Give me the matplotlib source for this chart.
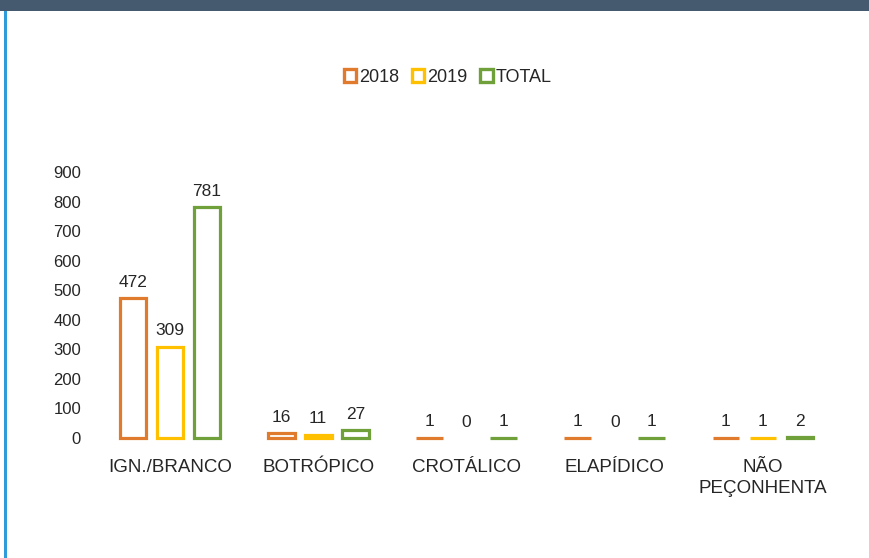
import numpy as np
import matplotlib.pyplot as plt
from matplotlib.patches import Patch, Rectangle

plt.rcParams['font.family'] = ['Liberation Sans', 'DejaVu Sans']

# data
categories = ['IGN./BRANCO', 'BOTRÓPICO', 'CROTÁLICO', 'ELAPÍDICO', 'NÃO\nPEÇONHENTA']
series_names = ['2018', '2019', 'TOTAL']
v2018 = [472, 16, 1, 1, 1]
v2019 = [309, 11, 0, 0, 1]
vtotal = [781, 27, 1, 1, 2]
colors = ['#E07B2E', '#FFC000', '#70A03A']
yticks = [0, 100, 200, 300, 400, 500, 600, 700, 800, 900]

W, H = 869, 558
fig = plt.figure(figsize=(W / 100, H / 100), dpi=100)

# header strip and left border from the page frame
fig.patches.append(Rectangle((0, 1 - 11 / H), 1, 11 / H, transform=fig.transFigure,
                             facecolor='#455A6E', edgecolor='none'))
fig.patches.append(Rectangle((4 / W, 0), 3 / W, 1 - 11 / H, transform=fig.transFigure,
                             facecolor='#2E9BDA', edgecolor='none'))

ax = fig.add_axes([95 / W, 120 / H, 745 / W, 266 / H])
x = np.arange(len(categories))
offsets = [-0.25, 0, 0.25]
for vals, off, col in zip([v2018, v2019, vtotal], offsets, colors):
    lw = [0 if v == 0 else 2.3 for v in vals]
    ax.bar(x + off, vals, width=0.18, facecolor='white', edgecolor=col,
           linewidth=lw, clip_on=False)
    for xi, v in zip(x, vals):
        ax.annotate(str(v), (xi + off, v), xytext=(0, 6), textcoords='offset points',
                    ha='center', va='bottom', fontsize=12.5, color='#262626')

ax.set_xlim(-0.506, 4.52)
ax.set_ylim(0, 900)
ax.set_yticks(yticks)
ax.set_xticks(x)
ax.set_xticklabels(categories, multialignment='center', fontsize=13.5, linespacing=1.3)
ax.tick_params(axis='both', length=0, labelcolor='#262626')
ax.tick_params(axis='y', labelsize=12, pad=10)
ax.tick_params(axis='x', pad=15)
for s in ax.spines.values():
    s.set_visible(False)

handles = [Patch(facecolor='white', edgecolor=c, linewidth=2.4) for c in colors]
fig.legend(handles, series_names, loc='center', bbox_to_anchor=(0.515, 1 - 77 / H),
           ncol=3, frameon=False, fontsize=13, handlelength=0.7, handleheight=0.7,
           handletextpad=0.15, columnspacing=0.7, labelcolor='#262626')

fig.savefig('out.png', dpi=100)
